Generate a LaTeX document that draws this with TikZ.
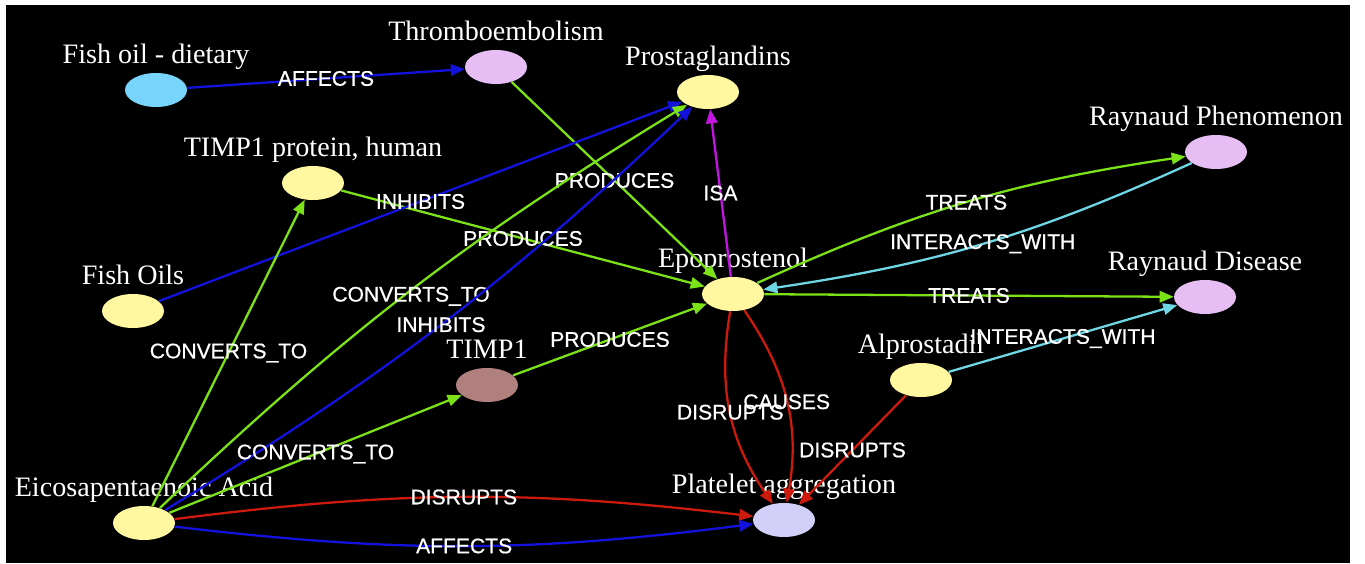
\documentclass[tikz,border=0pt]{standalone}
\usepackage{fontspec}
\setmainfont{Liberation Serif}
\setsansfont{Liberation Sans}
\newfontfamily\relfont{Liberation Sans}[FakeBold=0.7]
\usetikzlibrary{arrows.meta,shapes.geometric}

\definecolor{edgegreen}{RGB}{124,226,24}
\definecolor{edgeblue}{RGB}{18,18,220}
\definecolor{edgered}{RGB}{204,26,12}
\definecolor{edgemagenta}{RGB}{196,20,228}
\definecolor{edgecyan}{RGB}{110,214,228}
\definecolor{termyellow}{RGB}{255,248,160}
\definecolor{termlilac}{RGB}{230,190,244}
\definecolor{termsky}{RGB}{120,212,250}
\definecolor{termrose}{RGB}{176,128,126}
\definecolor{termperiwinkle}{RGB}{210,208,248}

% term: name, colour, position, text
\newcommand\term[4]{%
  \node[term=#2] (#1) at (#3) {};
  \node[termtext] (#1-text) at ([yshift=0.18cm]#1.north) {#4};}

\begin{document}
\begin{tikzpicture}[x=0.02cm, y=0.02cm,
    term/.style={ellipse, fill=#1, minimum width=1.24cm, minimum height=0.68cm, inner sep=0pt},
    termtext/.style={anchor=base, text=white, inner sep=0pt, font=\fontsize{16}{18}\selectfont},
    link/.style={draw=#1, line width=1.3pt, -{Triangle[length=8pt,width=6.5pt]}},
    elbl/.style={text=white, inner sep=0pt, font=\relfont\fontsize{12}{14}\selectfont}]

\useasboundingbox (0,0) rectangle (1365,-564);
\fill[white] (0,0) rectangle (1365,-564);
\fill[black] (6,-5) rectangle (1350,-563);

% terms
\term{fishdiet}{termsky}{156,-90}{Fish oil - dietary}
\term{thrombo}{termlilac}{496,-67}{Thromboembolism}
\term{prosta}{termyellow}{708,-92}{Prostaglandins}
\term{timpprot}{termyellow}{313,-183}{TIMP1 protein, human}
\term{fishoils}{termyellow}{133,-311}{Fish Oils}
\term{epa}{termyellow}{144,-523}{Eicosapentaenoic Acid}
\term{timp}{termrose}{487,-385}{TIMP1}
\term{epo}{termyellow}{733,-294}{Epoprostenol}
\term{platelet}{termperiwinkle}{784,-520}{Platelet aggregation}
\term{alpro}{termyellow}{921,-380}{Alprostadil}
\term{rayphen}{termlilac}{1216,-152}{Raynaud Phenomenon}
\term{raydis}{termlilac}{1205,-297}{Raynaud Disease}

% relations
\draw[link=edgeblue] (fishdiet) -- node[elbl]{AFFECTS} (thrombo);
\draw[link=edgegreen] (thrombo) -- node[elbl]{PRODUCES} (epo);
\draw[link=edgegreen] (timpprot) -- node[elbl]{PRODUCES} (epo);
\draw[link=edgeblue] (fishoils) -- node[elbl]{INHIBITS} (prosta);
\draw[link=edgegreen] (epa) -- node[elbl]{CONVERTS\_TO} (timpprot);
\draw[link=edgegreen] (epa) to[bend left=6] node[elbl, yshift=-0.12cm]{CONVERTS\_TO} (prosta);
\draw[link=edgeblue] (epa) to[bend right=6] node[elbl]{INHIBITS} (prosta);
\draw[link=edgegreen] (epa) -- node[elbl]{CONVERTS\_TO} (timp);
\draw[link=edgegreen] (timp) -- node[elbl]{PRODUCES} (epo);
\draw[link=edgemagenta] (epo) -- node[elbl]{ISA} (prosta);
\draw[link=edgegreen] (epo) to[bend left=8] node[elbl]{TREATS} (rayphen);
\draw[link=edgecyan] (rayphen) to[bend left=8] node[elbl]{INTERACTS\_WITH} (epo);
\draw[link=edgegreen] (epo) -- node[elbl]{TREATS} (raydis);
\draw[link=edgecyan] (alpro) -- node[elbl]{INTERACTS\_WITH} (raydis);
\draw[link=edgered] (epo) to[bend right=22] node[elbl]{DISRUPTS} (platelet);
\draw[link=edgered] (epo) to[bend left=22] node[elbl]{CAUSES} (platelet);
\draw[link=edgered] (alpro) -- node[elbl]{DISRUPTS} (platelet);
\draw[link=edgered] (epa) to[bend left=7] node[elbl]{DISRUPTS} (platelet);
\draw[link=edgeblue] (epa) to[bend right=7] node[elbl]{AFFECTS} (platelet);
\end{tikzpicture}
\end{document}
